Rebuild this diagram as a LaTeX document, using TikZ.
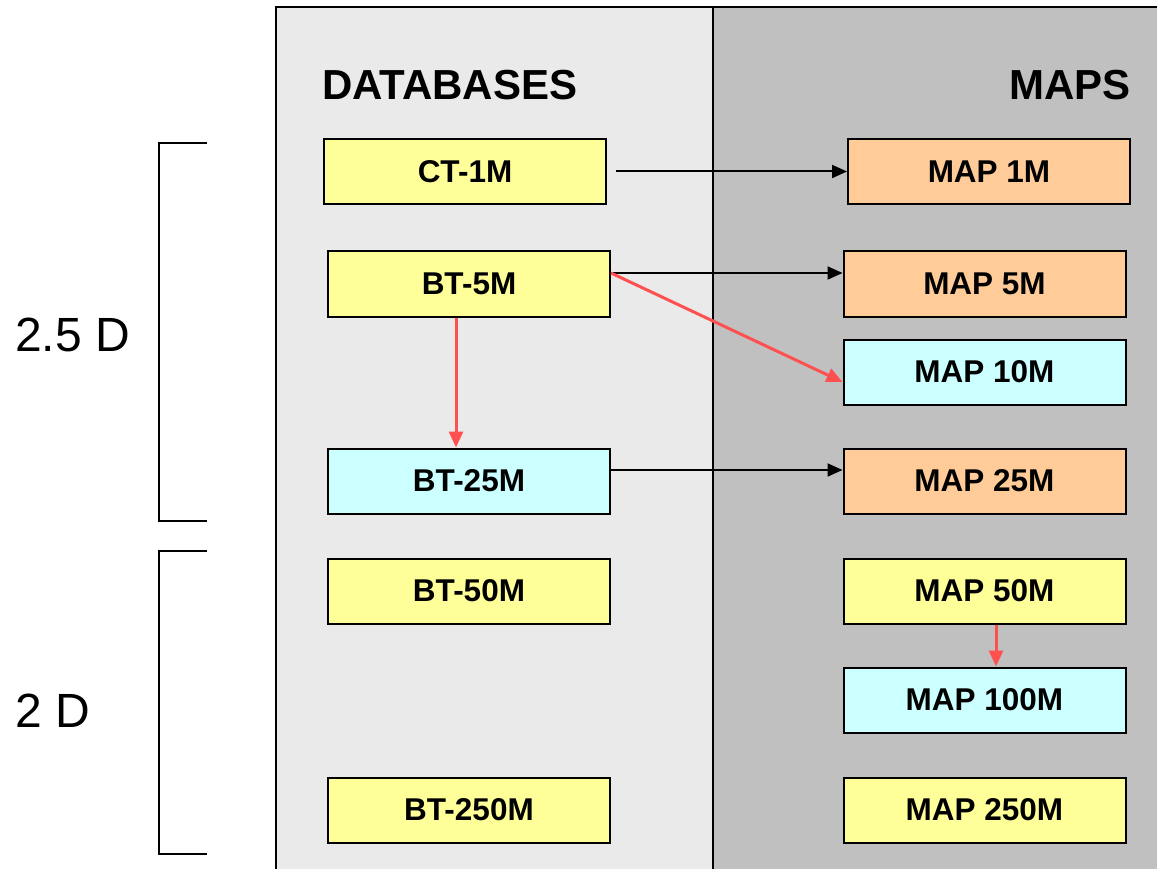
\documentclass[tikz,border=0pt]{standalone}
\usepackage{fontspec}
\setmainfont{Liberation Sans}
\usetikzlibrary{arrows.meta}
\definecolor{panelL}{HTML}{EAEAEA}
\definecolor{panelR}{HTML}{C0C0C0}
\definecolor{boxY}{HTML}{FFFF99}
\definecolor{boxC}{HTML}{CCFFFF}
\definecolor{boxO}{HTML}{FFCC99}
\definecolor{redA}{HTML}{FF5050}
\tikzset{
  box/.style={draw=black, line width=2pt, minimum width=282pt, minimum height=65pt,
    inner sep=0pt, font=\fontsize{31.5}{36}\selectfont\bfseries},
  yb/.style={box, fill=boxY},
  cb/.style={box, fill=boxC},
  ob/.style={box, fill=boxO},
  blk/.style={line width=2pt, draw=black, -{Triangle[length=15pt,width=13pt]}},
  red/.style={line width=3pt, draw=redA, -{Triangle[length=16pt,width=14pt]}},
  brk/.style={line width=2.5pt, draw=black},
  head/.style={font=\fontsize{42}{48}\selectfont\bfseries, inner sep=0pt},
  dlab/.style={font=\fontsize{48}{54}\selectfont, inner sep=0pt, anchor=base west}
}
\begin{document}
\begin{tikzpicture}[x=1pt,y=-1pt]
\useasboundingbox (0,0) rectangle (1157,869);
\begin{scope}
\clip (0,0) rectangle (1157,869);
\fill[panelL] (276,7) rectangle (713,890);
\fill[panelR] (713,7) rectangle (1180,890);
\draw[line width=2pt] (276,890) -- (276,7) -- (1180,7);
\draw[line width=2pt] (713,7) -- (713,890);
\end{scope}
% headings
\node[head, anchor=base west] (hdb) at (322,100) {DATABASES};
\node[head, anchor=base east] (hmp) at (1131,100) {MAPS};
% brackets
\draw[brk] (207,143) -- (159,143) -- (159,521) -- (207,521);
\draw[brk] (207,551) -- (159,551) -- (159,854) -- (207,854);
\node[dlab] (l25) at (15,351) {2.5 D};
\node[dlab] (l2) at (15,727) {2 D};
% database boxes
\node[yb] (ct1) at (465,171.5) {CT-1M};
\node[yb] (bt5) at (469,284) {BT-5M};
\node[cb] (bt25) at (469,481) {BT-25M};
\node[yb] (bt50) at (469,591) {BT-50M};
\node[yb] (bt250) at (469,810) {BT-250M};
% map boxes
\node[ob] (m1) at (989,171.5) {MAP 1M};
\node[ob] (m5) at (984.5,284) {MAP 5M};
\node[cb] (m10) at (984.5,372) {MAP 10M};
\node[ob] (m25) at (984.5,481) {MAP 25M};
\node[yb] (m50) at (984.5,591) {MAP 50M};
\node[cb] (m100) at (984.5,700) {MAP 100M};
\node[yb] (m250) at (984.5,810) {MAP 250M};
% arrows
\draw[blk] ([xshift=9pt]ct1.east) -- (m1.west);
\draw[blk] ([yshift=11pt]bt5.east) -- ([yshift=11pt]m5.west);
\draw[red] ([yshift=11pt]bt5.east) -- ([yshift=-10pt]m10.west);
\draw[red] ([xshift=-13pt]bt5.south) -- ([xshift=-13pt]bt25.north);
\draw[blk] ([yshift=11pt]bt25.east) -- ([yshift=11pt]m25.west);
\draw[red] ([xshift=11.5pt]m50.south) -- ([xshift=11.5pt]m100.north);
\end{tikzpicture}
\end{document}
